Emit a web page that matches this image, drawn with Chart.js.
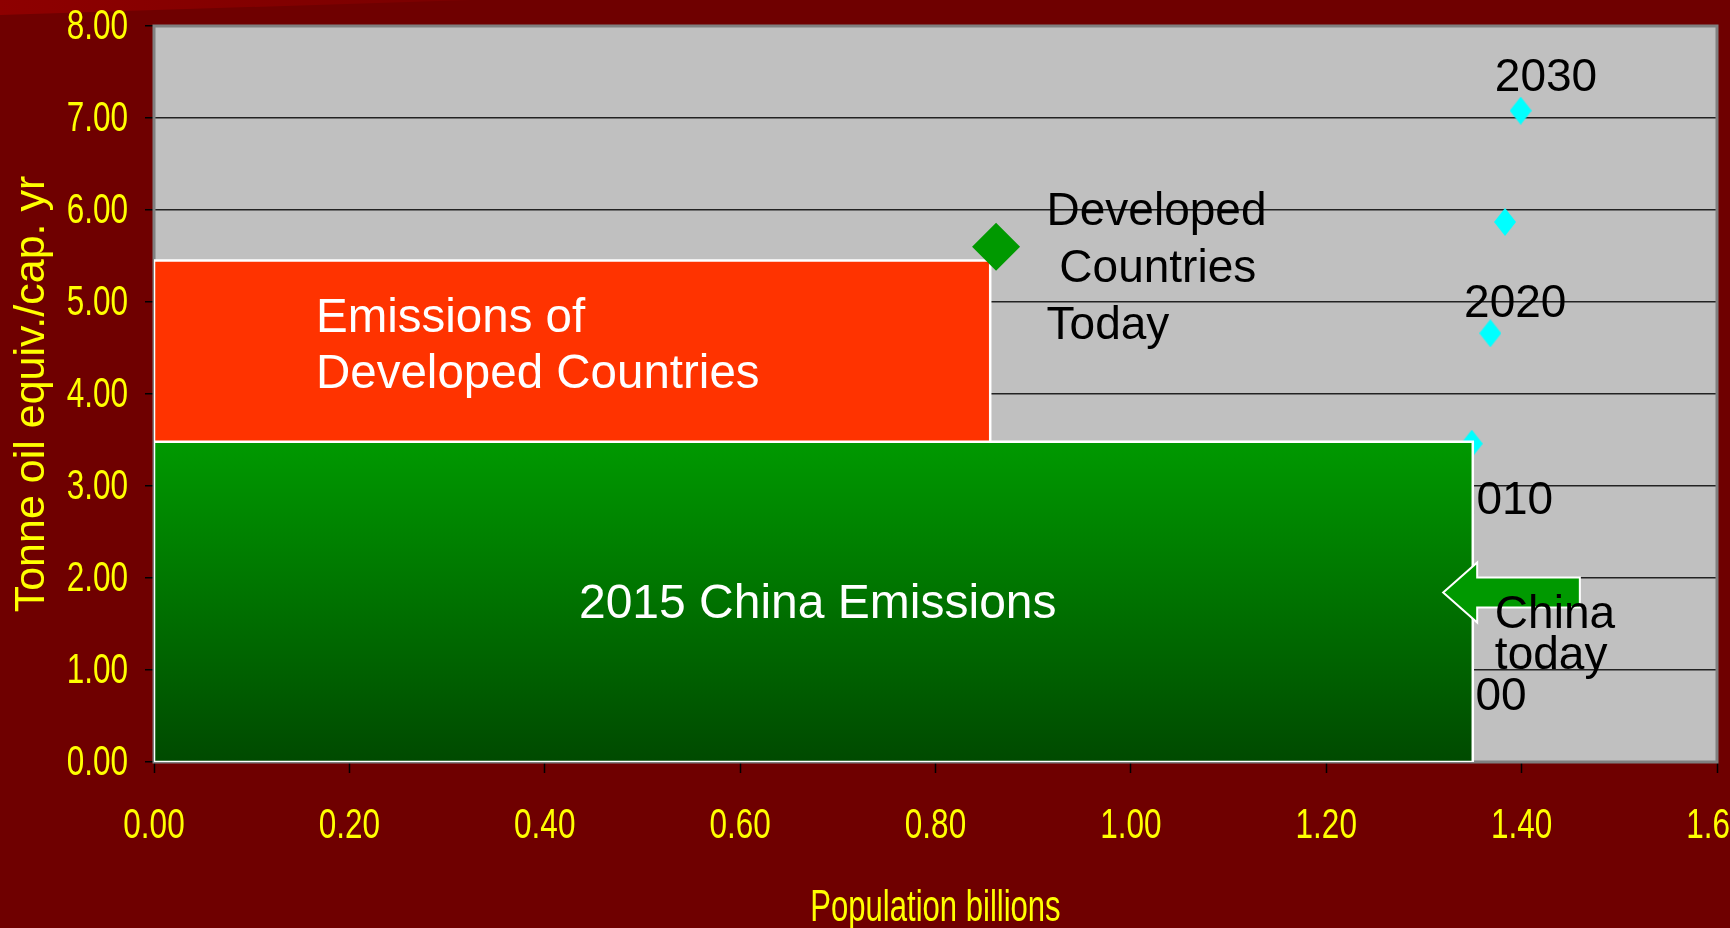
<!DOCTYPE html>
<html>
<head>
<meta charset="utf-8">
<title>Energy per head vs population</title>
<script src="https://cdn.jsdelivr.net/npm/chart.js@4.4.1/dist/chart.umd.min.js"></script>
<style>
  html, body { margin: 0; padding: 0; background: #6f0000; }
  #wrap { position: relative; width: 1730px; height: 928px; overflow: hidden; }
  #streak {
    position: absolute; left: 0; top: 0; width: 470px; height: 15px;
    background: linear-gradient(90deg, #8e0000, #7a0000);
    clip-path: polygon(0 0, 100% 0, 0 100%);
  }
  canvas { position: absolute; left: 0; top: 0; }
</style>
</head>
<body>
<div id="wrap">
  <div id="streak"></div>
  <canvas id="chart" width="1730" height="928"></canvas>
</div>
<script>
// China's path: population (billions) vs energy (tonne oil equiv. per head per year)
const chinaPop = [1.349, 1.368, 1.383, 1.399];
const chinaEnergy = [3.46, 4.66, 5.87, 7.08];

// developed countries today
const developedPop = [0.862];
const developedEnergy = [5.60];

// blocks: [China 2015, developed countries]
const blockPop = [1.35, 0.856];
const blockBase = [0, 3.48];
const blockTop = [3.48, 5.45];

// year tags next to the China path (anchored in data units)
const yearText = ["2030", "2020", "2010", "2000"];
const yearX = [1.3726, 1.3411, 1.3275, 1.3004];
const yearY = [7.297, 4.839, 2.701, 0.570];

const SANS = "'Liberation Sans', Arial, sans-serif";
const SQUEEZE = 0.75; // axis text is set in a condensed face

const xy = (xs, ys) => xs.map((x, i) => ({ x, y: ys[i] }));

function blockEdge(i) {
  return [{ x: 0, y: blockTop[i] }, { x: blockPop[i], y: blockTop[i] }];
}

function blockOutline(i) {
  const x = blockPop[i], lo = blockBase[i], hi = blockTop[i];
  return [{ x: 0, y: lo }, { x: 0, y: hi }, { x, y: hi }, { x, y: lo }, { x: 0, y: lo }];
}

// tall cyan diamond marker
const cyanDiamond = (() => {
  const c = document.createElement("canvas");
  c.width = 22; c.height = 28;
  const g = c.getContext("2d");
  g.fillStyle = "#00ffff";
  g.beginPath();
  g.moveTo(11, 0); g.lineTo(22, 14); g.lineTo(11, 28); g.lineTo(0, 14);
  g.closePath();
  g.fill();
  return c;
})();

function greenFill(context) {
  const { chart } = context;
  const area = chart.chartArea;
  if (!area) return "#008000";
  const top = chart.scales.y.getPixelForValue(blockTop[0]);
  const grad = chart.ctx.createLinearGradient(0, top, 0, area.bottom);
  grad.addColorStop(0, "#009900");
  grad.addColorStop(1, "#004a00");
  return grad;
}

function drawLines(chart, lines, x, y, step, size, color) {
  const { ctx } = chart;
  const px = chart.scales.x.getPixelForValue(x);
  const py = chart.scales.y.getPixelForValue(y);
  ctx.save();
  ctx.font = size + "px " + SANS;
  ctx.fillStyle = color;
  ctx.textAlign = "left";
  ctx.textBaseline = "alphabetic";
  lines.forEach((t, i) => ctx.fillText(t, px, py + i * step));
  ctx.restore();
}

function narrowText(ctx, text, x, y, align, size, squeeze) {
  ctx.save();
  ctx.translate(x, y);
  ctx.scale(squeeze, 1);
  ctx.font = size + "px " + SANS;
  ctx.textAlign = align;
  ctx.textBaseline = "alphabetic";
  ctx.fillText(text, 0, 0);
  ctx.restore();
}

const plotFrame = {
  id: "plotFrame",
  beforeDraw(chart) {
    const { ctx, chartArea: a } = chart;
    ctx.save();
    ctx.fillStyle = "#c0c0c0";
    ctx.fillRect(a.left, a.top, a.width, a.height);
    ctx.restore();
  },
  beforeDatasetsDraw(chart) {
    const { ctx, chartArea: a } = chart;
    ctx.save();
    ctx.strokeStyle = "#808080";
    ctx.lineWidth = 3;
    ctx.strokeRect(a.left, a.top, a.width, a.height);
    ctx.restore();
  }
};

// condensed yellow tick labels and x title, placed from the scales' own ticks
const axisText = {
  id: "axisText",
  afterDraw(chart) {
    const { ctx, chartArea: a } = chart;
    const sx = chart.scales.x, sy = chart.scales.y;
    ctx.save();
    ctx.fillStyle = "#ffff00";
    sy.ticks.forEach(t => {
      narrowText(ctx, t.label, a.left - 26, sy.getPixelForValue(t.value) + 12.5, "right", 42, SQUEEZE);
    });
    sx.ticks.forEach(t => {
      narrowText(ctx, t.label, sx.getPixelForValue(t.value), a.bottom + 75.5, "center", 42, SQUEEZE);
    });
    narrowText(ctx, "Population billions", (a.left + a.right) / 2, 920.5 - 0 * a.bottom, "center", 45, 0.69);
    ctx.restore();
  }
};

// year tags sit under the blocks, so draw them right after the cyan points
const yearTags = {
  id: "yearTags",
  afterDatasetDraw(chart, args) {
    if (args.index !== 0) return;
    yearText.forEach((t, i) => drawLines(chart, [t], yearX[i], yearY[i], 0, 46, "#000"));
  }
};

const notes = {
  id: "notes",
  afterDatasetsDraw(chart) {
    const { ctx } = chart;
    const sx = chart.scales.x, sy = chart.scales.y;

    drawLines(chart, ["Emissions of", "Developed Countries"], 0.1658, 4.676, 56.6, 47.5, "#fff");
    drawLines(chart, ["2015 China Emissions"], 0.435, 1.566, 0, 48, "#fff");
    drawLines(chart, ["Developed", " Countries", "Today"], 0.9137, 5.836, 57, 46, "#000");

    // "China today" arrow pointing at the China block
    const tipX = sx.getPixelForValue(1.3197);
    const tailX = sx.getPixelForValue(1.4596);
    const midY = sy.getPixelForValue(1.842);
    const head = 34, headH = 30, shaftH = 15;
    ctx.save();
    ctx.beginPath();
    ctx.moveTo(tipX, midY);
    ctx.lineTo(tipX + head, midY - headH);
    ctx.lineTo(tipX + head, midY - shaftH);
    ctx.lineTo(tailX, midY - shaftH);
    ctx.lineTo(tailX, midY + shaftH);
    ctx.lineTo(tipX + head, midY + shaftH);
    ctx.lineTo(tipX + head, midY + headH);
    ctx.closePath();
    ctx.fillStyle = "#009900";
    ctx.fill();
    ctx.strokeStyle = "#ffffff";
    ctx.lineWidth = 2;
    ctx.stroke();
    ctx.restore();

    drawLines(chart, ["China", "today"], 1.3726, 1.4615, 41, 46, "#000");
  }
};

new Chart(document.getElementById("chart"), {
  type: "scatter",
  data: {
    datasets: [
      {
        label: "China path",
        data: xy(chinaPop, chinaEnergy),
        pointStyle: cyanDiamond,
        order: 10
      },
      {
        type: "line",
        label: "China 2015",
        data: blockEdge(0),
        fill: "origin",
        backgroundColor: greenFill,
        borderWidth: 0,
        pointRadius: 0,
        order: 9
      },
      {
        type: "line",
        data: blockOutline(0),
        fill: false,
        borderColor: "#ffffff",
        borderWidth: 2.5,
        borderJoinStyle: "miter",
        pointRadius: 0,
        order: 8
      },
      {
        type: "line",
        label: "Developed countries",
        data: blockEdge(1),
        fill: { value: blockBase[1] },
        backgroundColor: "#ff3300",
        borderWidth: 0,
        pointRadius: 0,
        order: 7
      },
      {
        type: "line",
        data: blockOutline(1),
        fill: false,
        borderColor: "#ffffff",
        borderWidth: 2.5,
        borderJoinStyle: "miter",
        pointRadius: 0,
        order: 6
      },
      {
        label: "Developed today",
        data: xy(developedPop, developedEnergy),
        pointStyle: "rectRot",
        pointRadius: 24,
        backgroundColor: "#009900",
        borderWidth: 0,
        order: 5
      }
    ]
  },
  options: {
    responsive: false,
    animation: false,
    devicePixelRatio: 1,
    events: [],
    layout: { autoPadding: false, padding: { top: 26, right: 13, left: 0, bottom: 0 } },
    plugins: {
      legend: { display: false },
      tooltip: { enabled: false }
    },
    scales: {
      x: {
        type: "linear",
        min: 0,
        max: 1.6,
        ticks: {
          display: false,
          stepSize: 0.2,
          autoSkip: false,
          callback: v => v.toFixed(2)
        },
        grid: { drawOnChartArea: false, tickColor: "#000", tickLength: 11, tickWidth: 1.5 },
        border: { display: false },
        afterFit(s) {
          s.height = 166;
          s.paddingLeft = 0;
          s.paddingRight = 0;
        }
      },
      y: {
        type: "linear",
        min: 0,
        max: 8,
        ticks: {
          display: false,
          stepSize: 1,
          callback: v => v.toFixed(2)
        },
        grid: { color: "#222", lineWidth: 1.5, tickColor: "#000", tickLength: 9, tickWidth: 1.5 },
        border: { display: false },
        title: {
          display: true,
          text: "Tonne oil equiv./cap. yr",
          color: "#ffff00",
          font: { family: SANS, size: 43 },
          padding: { top: 6, bottom: 0 }
        },
        afterFit(s) {
          s.width = 154;
          s.paddingTop = 0;
          s.paddingBottom = 0;
        }
      }
    }
  },
  plugins: [plotFrame, axisText, yearTags, notes]
});
</script>
</body>
</html>
